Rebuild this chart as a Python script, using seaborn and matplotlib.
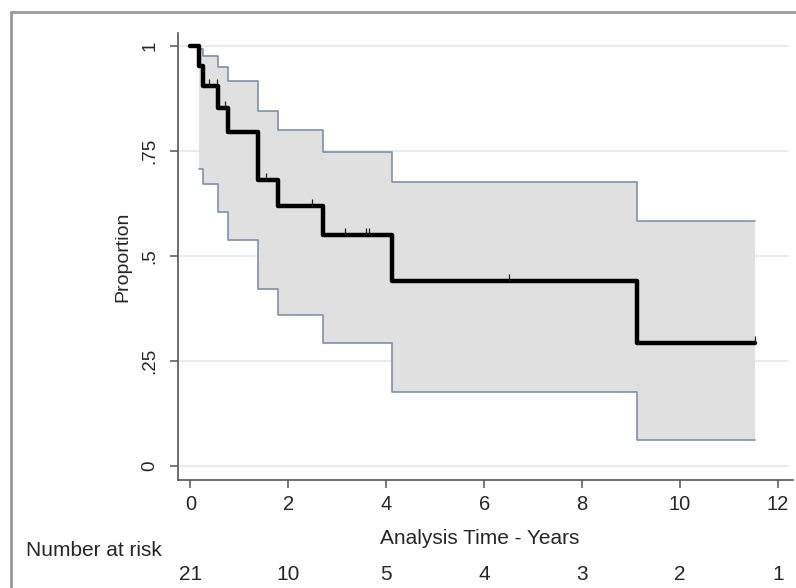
import matplotlib
matplotlib.use('Agg')
import matplotlib.pyplot as plt
import matplotlib.transforms as mtransforms
from matplotlib.lines import Line2D
import seaborn as sns

# Kaplan-Meier estimate
km_time = [0, 0.18, 0.25, 0.57, 0.76, 1.37, 1.78, 2.70, 4.12, 9.12, 11.53]
km_surv = [1.0, 0.952, 0.905, 0.852, 0.795, 0.681, 0.619, 0.550, 0.440, 0.293, 0.293]

# 95% confidence band
ci_time = [0.18, 0.25, 0.57, 0.76, 1.37, 1.78, 2.70, 4.12, 9.12, 11.53]
ci_upper = [0.993, 0.977, 0.951, 0.917, 0.846, 0.800, 0.747, 0.677, 0.583, 0.583]
ci_lower = [0.707, 0.671, 0.606, 0.538, 0.421, 0.360, 0.294, 0.177, 0.062, 0.062]

# censoring marks
cens_time = [0.37, 0.55, 0.71, 1.55, 2.49, 3.16, 3.59, 3.65, 6.51, 11.53]
cens_surv = [0.905, 0.905, 0.852, 0.681, 0.619, 0.550, 0.550, 0.550, 0.440, 0.293]

# number at risk table
risk_time = [0, 2, 4, 6, 8, 10, 12]
risk_count = [21, 10, 5, 4, 3, 2, 1]

y_ticks = [0, 0.25, 0.5, 0.75, 1]
y_ticklabels = ['0', '.25', '.5', '.75', '1']

sns.set_style('white')
plt.rcParams['font.family'] = ['Liberation Sans', 'DejaVu Sans']

fig = plt.figure(figsize=(7.96, 5.88), dpi=100)
ax = fig.add_axes([178 / 796, 108 / 588, (793 - 178) / 796, (480 - 33) / 588])

# gridlines
for yt in y_ticks:
    ax.axhline(yt, xmin=0.003, xmax=0.99, color='#e4ecf0', lw=1.4, zorder=0)

# CI band
ax.fill_between(ci_time, ci_lower, ci_upper, step='post', color='#e0e0e0', lw=0, zorder=1)
sns.lineplot(x=ci_time, y=ci_upper, drawstyle='steps-post', color='#7f8fac', lw=1.2,
             estimator=None, sort=False, ax=ax, zorder=2)
sns.lineplot(x=ci_time, y=ci_lower, drawstyle='steps-post', color='#7f8fac', lw=1.2,
             estimator=None, sort=False, ax=ax, zorder=2)

# survival curve
sns.lineplot(x=km_time, y=km_surv, drawstyle='steps-post', color='black', lw=3.2,
             estimator=None, sort=False, ax=ax, zorder=3)
ax.vlines(cens_time, cens_surv, [s + 0.017 for s in cens_surv], color='#222222', lw=0.9, zorder=3)

ax.set_xlim(-0.255, 12.31)
ax.set_ylim(-0.033, 1.031)
ax.set_xticks(risk_time)
ax.set_yticks(y_ticks)
ax.set_yticklabels(y_ticklabels, rotation=90, va='center')

for side in ['top', 'right']:
    ax.spines[side].set_visible(False)
for side in ['left', 'bottom']:
    ax.spines[side].set_color('#555555')
    ax.spines[side].set_linewidth(1.2)

ax.tick_params(axis='both', direction='out', length=6, width=1.1, color='#555555',
               left=True, bottom=True)
ax.tick_params(axis='y', pad=8, labelsize=13.5)
ax.tick_params(axis='x', pad=5, labelsize=14.5)

ax.set_xlabel('Analysis Time - Years', fontsize=15, va='center')
ax.xaxis.set_label_coords((480 - 178) / 615, (480 - 538) / 447)
ax.set_ylabel('Proportion', fontsize=14, va='center')
ax.yaxis.set_label_coords((123 - 178) / 615, 0.5)

# number at risk
trans = mtransforms.blended_transform_factory(ax.transData, fig.transFigure)
fig.text(26 / 796, 1 - 551 / 588, 'Number at risk', fontsize=15, va='center', ha='left')
for t, n in zip(risk_time, risk_count):
    ax.text(t, 1 - 575 / 588, str(n), transform=trans, fontsize=15, ha='center', va='center',
            clip_on=False)

# outer frame of the graph region
fig.add_artist(Line2D([11 / 796, 1], [1 - 12 / 588, 1 - 12 / 588], transform=fig.transFigure,
                      color='#999999', lw=2))
fig.add_artist(Line2D([11 / 796, 11 / 796], [0, 1 - 12 / 588], transform=fig.transFigure,
                      color='#999999', lw=2))

fig.savefig('out.png', dpi=100)
